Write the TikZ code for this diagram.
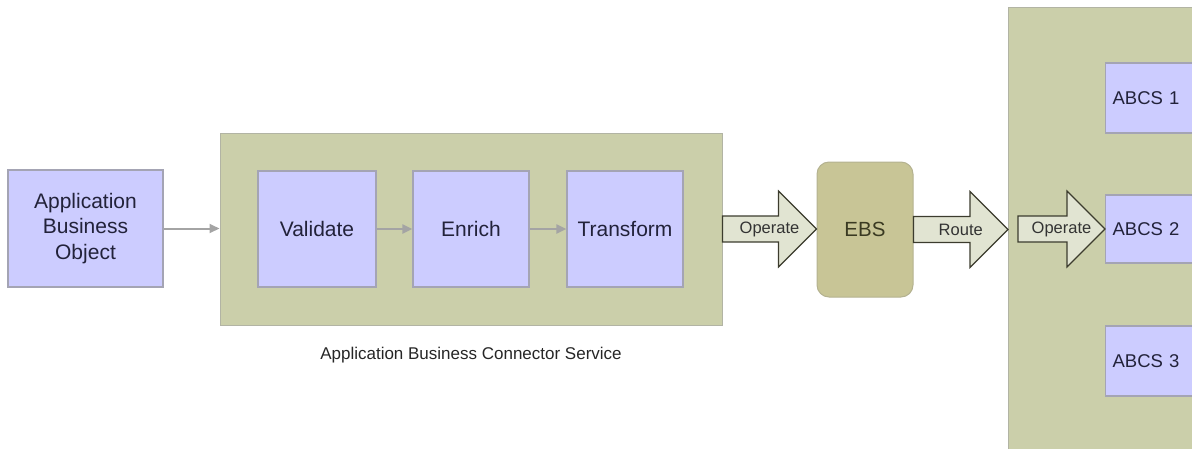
\documentclass[tikz,border=0pt]{standalone}
\usepackage{fontspec}
\setmainfont{Liberation Sans}
\usetikzlibrary{arrows.meta,calc}

\definecolor{boxfill}{HTML}{CCCCFF}
\definecolor{boxline}{HTML}{A4A4B4}
\definecolor{boxtext}{HTML}{22223A}
\definecolor{groupfill}{HTML}{CBCFAA}
\definecolor{groupline}{HTML}{B2B4A4}
\definecolor{ebsfill}{HTML}{C8C596}
\definecolor{ebsline}{HTML}{B4B290}
\definecolor{ebstext}{HTML}{3A3A22}
\definecolor{fatfill}{HTML}{E1E4D2}
\definecolor{fatline}{HTML}{3C3C2E}
\definecolor{flowgray}{HTML}{A4A4A4}

\begin{document}
\begin{tikzpicture}[x=1pt, y=-1pt,
    box/.style={draw=boxline, fill=boxfill, line width=1.2pt, text=boxtext,
        font=\fontsize{21}{25.5}\selectfont, align=center, inner sep=0pt},
    group/.style={draw=groupline, fill=groupfill, line width=1pt, inner sep=0pt},
    flow/.style={draw=flowgray, line width=2pt, -{Triangle[length=10pt, width=9pt]}},
    fat/.style={draw=fatline, fill=fatfill, line width=1.1pt, line join=miter,
        to path={let \p1=(\tikztostart), \p2=(\tikztotarget) in
            (\x1,\y1+13pt) -- (\x2-38pt,\y1+13pt) -- (\x2-38pt,\y1+38pt) -- (\x2,\y1)
            -- (\x2-38pt,\y1-38pt) -- (\x2-38pt,\y1-13pt) -- (\x1,\y1-13pt) -- cycle}},
    fattext/.style={text=black!80, font=\fontsize{16.5}{19}\selectfont, inner sep=0pt}]
    \useasboundingbox (0,0) rectangle (1192,448);
    \clip (0,0) rectangle (1192,448);

    % containers
    \node[group, minimum width=502pt, minimum height=192pt] (acs) at (471,229) {};
    \node[group, anchor=north west, minimum width=260pt, minimum height=470pt] (abcsgroup) at (1008,7) {};
    \node[text=black!85, font=\fontsize{17}{20}\selectfont] (acslabel) at (471,355) {Application Business Connector Service};

    % boxes
    \node[box, minimum width=155pt, minimum height=117pt] (abo) at (85.5,228.5) {Application\\Business\\Object};
    \node[box, minimum width=118pt, minimum height=116pt] (validate) at (317,229) {Validate};
    \node[box, minimum width=116pt, minimum height=116pt] (enrich) at (471,229) {Enrich};
    \node[box, minimum width=116pt, minimum height=116pt] (transform) at (625,229) {Transform};
    \node[draw=ebsline, fill=ebsfill, line width=1pt, rounded corners=12pt, text=ebstext,
        font=\fontsize{20.5}{24}\selectfont, minimum width=96pt, minimum height=135pt] (ebs) at (865,229.5) {EBS};

    \node[box, anchor=west, align=left, text width=86pt, inner xsep=7pt, minimum height=70pt,
        font=\fontsize{18.5}{22}\selectfont] (abcs1) at (1105,98) {ABCS 1};
    \node[box, anchor=west, align=left, text width=86pt, inner xsep=7pt, minimum height=68pt,
        font=\fontsize{18.5}{22}\selectfont] (abcs2) at (1105,229) {ABCS 2};
    \node[box, anchor=west, align=left, text width=86pt, inner xsep=7pt, minimum height=70pt,
        font=\fontsize{18.5}{22}\selectfont] (abcs3) at (1105,361) {ABCS 3};

    % thin arrows
    \draw[flow] (abo.east) -- (abo.east -| acs.west);
    \draw[flow] (validate) -- (enrich);
    \draw[flow] (enrich) -- (transform);

    % block arrows
    \coordinate (optail) at ($(abcsgroup.west |- abcs2.west)+(10,0)$);
    \draw[fat] (acs.east) to (ebs.west);
    \draw[fat] (ebs.east) to (ebs.east -| abcsgroup.west);
    \draw[fat] (optail) to (abcs2.west);
    \node[fattext] (op1) at ($(acs.east)!0.5!(ebs.west)$) {Operate};
    \node[fattext] (route) at ($(ebs.east)!0.5!(ebs.east -| abcsgroup.west)$) {Route};
    \node[fattext] (op2) at ($(optail)!0.5!(abcs2.west)$) {Operate};
\end{tikzpicture}
\end{document}
